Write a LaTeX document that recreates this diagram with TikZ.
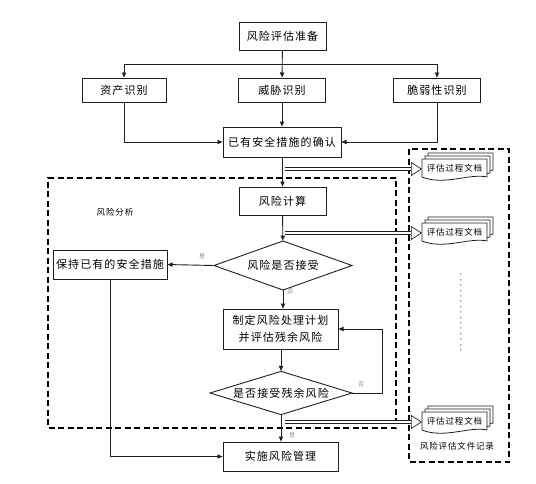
\documentclass[tikz,border=0pt]{standalone}
\usepackage{fontspec}
\setmainfont{Noto Sans CJK SC}
\newfontfamily\spacedcjk[LetterSpace=10]{Noto Sans CJK SC}
\usetikzlibrary{arrows.meta,shapes.geometric}
\definecolor{ln}{gray}{0.12}
\tikzset{
 x=1pt,y=-1pt,
 every node/.style={inner sep=0pt,outer sep=0pt,text=black,font=\spacedcjk\fontsize{11}{17}\selectfont},
 box/.style={draw=ln,line width=1pt,minimum width=#1,align=center},
 box/.default=87pt,
 dec/.style={draw=ln,line width=.9pt,diamond,aspect=2.9,align=center},
 flow/.style={draw=ln,line width=.9pt,-{Latex[length=5.5pt,width=5pt]}},
 plain/.style={draw=ln,line width=.9pt},
 fence/.style={draw=black,line width=1.2pt,dash pattern=on 6pt off 3.5pt},
 hollow/.style={draw=ln,line width=.7pt,double=white,double distance=2.2pt,-{Triangle[open,fill=white,length=11pt,width=14pt]}},
 small/.style={font=\spacedcjk\fontsize{8.5}{10}\selectfont},
 faint/.style={font=\fontsize{6}{8}\selectfont,text=black!45},
 sheet/.style={draw=ln,line width=.8pt,fill=white},
}
\newcommand{\docstack}[3]{% name, x-left, y-top
 \foreach \d in {6,3}{
  \path[sheet] (#2+\d,#3-\d) -- (#2+65+\d,#3-\d) -- (#2+65+\d,#3+17-\d) .. controls (#2+50+\d,#3+21-\d) and (#2+20+\d,#3+16-\d) .. (#2+\d,#3+21-\d) -- cycle;
 }
 \path[sheet] (#2,#3) -- (#2+65,#3) -- (#2+65,#3+18) .. controls (#2+48,#3+14) and (#2+22,#3+27) .. (#2,#3+18) -- cycle;
 \node[small] (#1) at (#2+32.5,#3+9.5) {评估过程文档};
 \coordinate (#1in) at (#2,#3+10);
}
\begin{document}
\begin{tikzpicture}
\useasboundingbox (0,0) rectangle (536,483);
\draw[fence] (396,178) -- (48,178) -- (48,428) -- (396,428) -- cycle;
\draw[fence] (409,149) rectangle (509,462);

\node[box,minimum height=28pt] (prep) at (282.5,36) {风险评估准备};
\node[box=84pt,minimum height=24pt] (asset) at (124,90) {资产识别};
\node[box,minimum height=24pt] (threat) at (282,90) {威胁识别};
\node[box,minimum height=24pt] (vuln) at (437,90) {脆弱性识别};
\node[box=118pt,minimum height=30pt] (conf) at (282,142) {已有安全措施的确认};
\node[box,minimum height=28pt] (calc) at (282.5,201) {风险计算};
\node[dec,minimum width=138pt,minimum height=49pt] (acc) at (283,265.5) {风险是否接受};
\node[box=114pt,minimum height=29pt] (keep) at (110,264.5) {保持已有的安全措施};
\node[box=115pt,minimum height=40pt] (plan) at (280.5,329) {制定风险处理计划\\并评估残余风险};
\node[dec,minimum width=142pt,minimum height=41pt] (acc2) at (281,393) {是否接受残余风险};
\node[box=115pt,minimum height=29pt] (impl) at (280.5,456.5) {实施风险管理};

\node[small] (ana) at (115,212) {风险分析};
\node[small] (rec) at (457,446) {风险评估文件记录};
\node (dots) at (461,311) {\rotatebox{90}{\fontsize{8}{8}\selectfont\foreach \k in {1,...,15}{.\hspace{3.2pt}}}};

\node[faint] (y1) at (202,256) {是};
\node[faint] (n1) at (290,291) {否};
\node[faint] (n2) at (361,384) {否};
\node[faint] (y2) at (292,435) {是};

\docstack{d1}{422}{159}
\docstack{d2}{422}{223}
\docstack{d3}{422}{412}

\coordinate (bus) at (282.5,64);
\draw[flow] (prep) -- (threat);
\draw[flow] (bus) -| (asset.north);
\draw[flow] (bus) -| (vuln.north);
\draw[flow] (asset.south) |- (conf.west);
\draw[flow] (threat) -- (conf);
\draw[flow] (vuln.south) |- (conf.east);
\draw[flow] (conf.south -| calc) -- (calc.north);
\draw[flow] (calc) -- (acc);
\draw[flow] (acc.west) -- (keep.east);
\draw[flow] (acc.south) -- (acc.south |- plan.north);
\draw[flow] (plan.south -| acc2) -- (acc2.north);
\draw[flow] (acc2.south) -- (acc2.south |- impl.north);
\draw[flow] (acc2.east) -- (382,393) -- (382,329) -- (plan.east);
\draw[flow] (keep.south) |- (impl.west);

\coordinate (t1) at (285,169);
\coordinate (t2) at (285,233);
\coordinate (t3) at (285,422);
\draw[hollow] (t1) -- (d1in);
\draw[hollow] (t2) -- (d2in);
\draw[hollow] (t3) -- (d3in);
\end{tikzpicture}
\end{document}
